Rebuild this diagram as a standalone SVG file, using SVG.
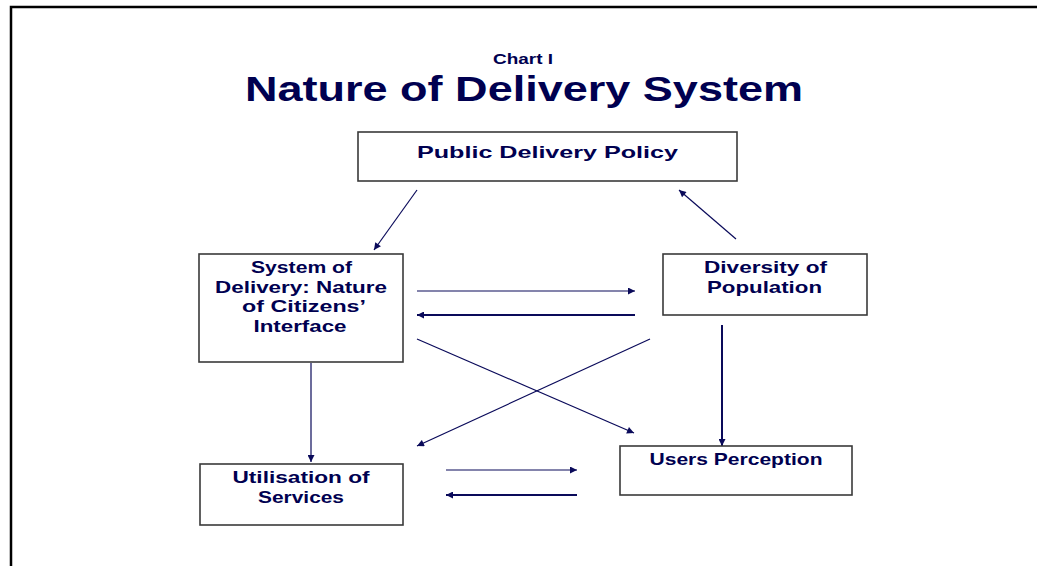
<svg xmlns="http://www.w3.org/2000/svg" width="1037" height="566" viewBox="0 0 1037 566">
<defs>
<style>
.frame{fill:none;stroke:#000;stroke-width:2.5}
.box{fill:#fff;stroke:#3a3a3a;stroke-width:1.6}
.lbl{font-family:"Liberation Sans",Arial,sans-serif;font-weight:bold;fill:#000050;text-anchor:middle}
.t{font-size:17px}
.c{fill:none;stroke:#0a0a5a;stroke-width:1.2}
.c2{fill:none;stroke:#0a0a5a;stroke-width:2}
</style>
<marker id="ah" viewBox="0 0 10 10" refX="10" refY="5" markerWidth="9" markerHeight="7" markerUnits="userSpaceOnUse" orient="auto">
<path d="M0,0 L10,5 L0,10 z" fill="#0a0a5a"/>
</marker>
</defs>
<rect width="1037" height="566" fill="#fff"/>
<path class="frame" d="M11,570 L11,7 L1040,7"/>
<g id="title">
<text class="lbl" x="523" y="64" font-size="15" textLength="60" lengthAdjust="spacingAndGlyphs">Chart I</text>
<text class="lbl" x="524" y="101" font-size="35" textLength="558" lengthAdjust="spacingAndGlyphs">Nature of Delivery System</text>
</g>
<g id="connectors">
<line class="c" x1="417" y1="190" x2="374" y2="250" marker-end="url(#ah)"/>
<line class="c" x1="736" y1="239" x2="679" y2="190" marker-end="url(#ah)"/>
<line class="c" x1="417" y1="291" x2="635" y2="291" marker-end="url(#ah)"/>
<line class="c2" x1="635" y1="315" x2="417" y2="315" marker-end="url(#ah)"/>
<line class="c" x1="417" y1="339" x2="634" y2="433" marker-end="url(#ah)"/>
<line class="c" x1="650" y1="339" x2="417" y2="446" marker-end="url(#ah)"/>
<line class="c" x1="311" y1="363" x2="311" y2="462" marker-end="url(#ah)"/>
<line class="c2" x1="722" y1="325" x2="722" y2="446" marker-end="url(#ah)"/>
<line class="c" x1="446" y1="470" x2="577" y2="470" marker-end="url(#ah)"/>
<line class="c2" x1="577" y1="495" x2="446" y2="495" marker-end="url(#ah)"/>
</g>
<g id="policy">
<rect class="box" x="358" y="132" width="379" height="49"/>
<text class="lbl t" x="547.5" y="158" textLength="261" lengthAdjust="spacingAndGlyphs">Public Delivery Policy</text>
</g>
<g id="system">
<rect class="box" x="199" y="254" width="204" height="108"/>
<text class="lbl t" x="301.5" y="273" textLength="101" lengthAdjust="spacingAndGlyphs">System of</text>
<text class="lbl t" x="301" y="292.5" textLength="172" lengthAdjust="spacingAndGlyphs">Delivery: Nature</text>
<text class="lbl t" x="304" y="312" textLength="124" lengthAdjust="spacingAndGlyphs">of Citizens’</text>
<text class="lbl t" x="300" y="331.5" textLength="93" lengthAdjust="spacingAndGlyphs">Interface</text>
</g>
<g id="diversity">
<rect class="box" x="663" y="254" width="204" height="61"/>
<text class="lbl t" x="765.5" y="273" textLength="123" lengthAdjust="spacingAndGlyphs">Diversity of</text>
<text class="lbl t" x="764.5" y="292.5" textLength="115" lengthAdjust="spacingAndGlyphs">Population</text>
</g>
<g id="utilisation">
<rect class="box" x="200" y="464" width="203" height="61"/>
<text class="lbl t" x="301" y="483" textLength="137" lengthAdjust="spacingAndGlyphs">Utilisation of</text>
<text class="lbl t" x="301" y="502.5" textLength="86" lengthAdjust="spacingAndGlyphs">Services</text>
</g>
<g id="users">
<rect class="box" x="620" y="446" width="232" height="49"/>
<text class="lbl t" x="736" y="465" textLength="173" lengthAdjust="spacingAndGlyphs">Users Perception</text>
</g>
</svg>
